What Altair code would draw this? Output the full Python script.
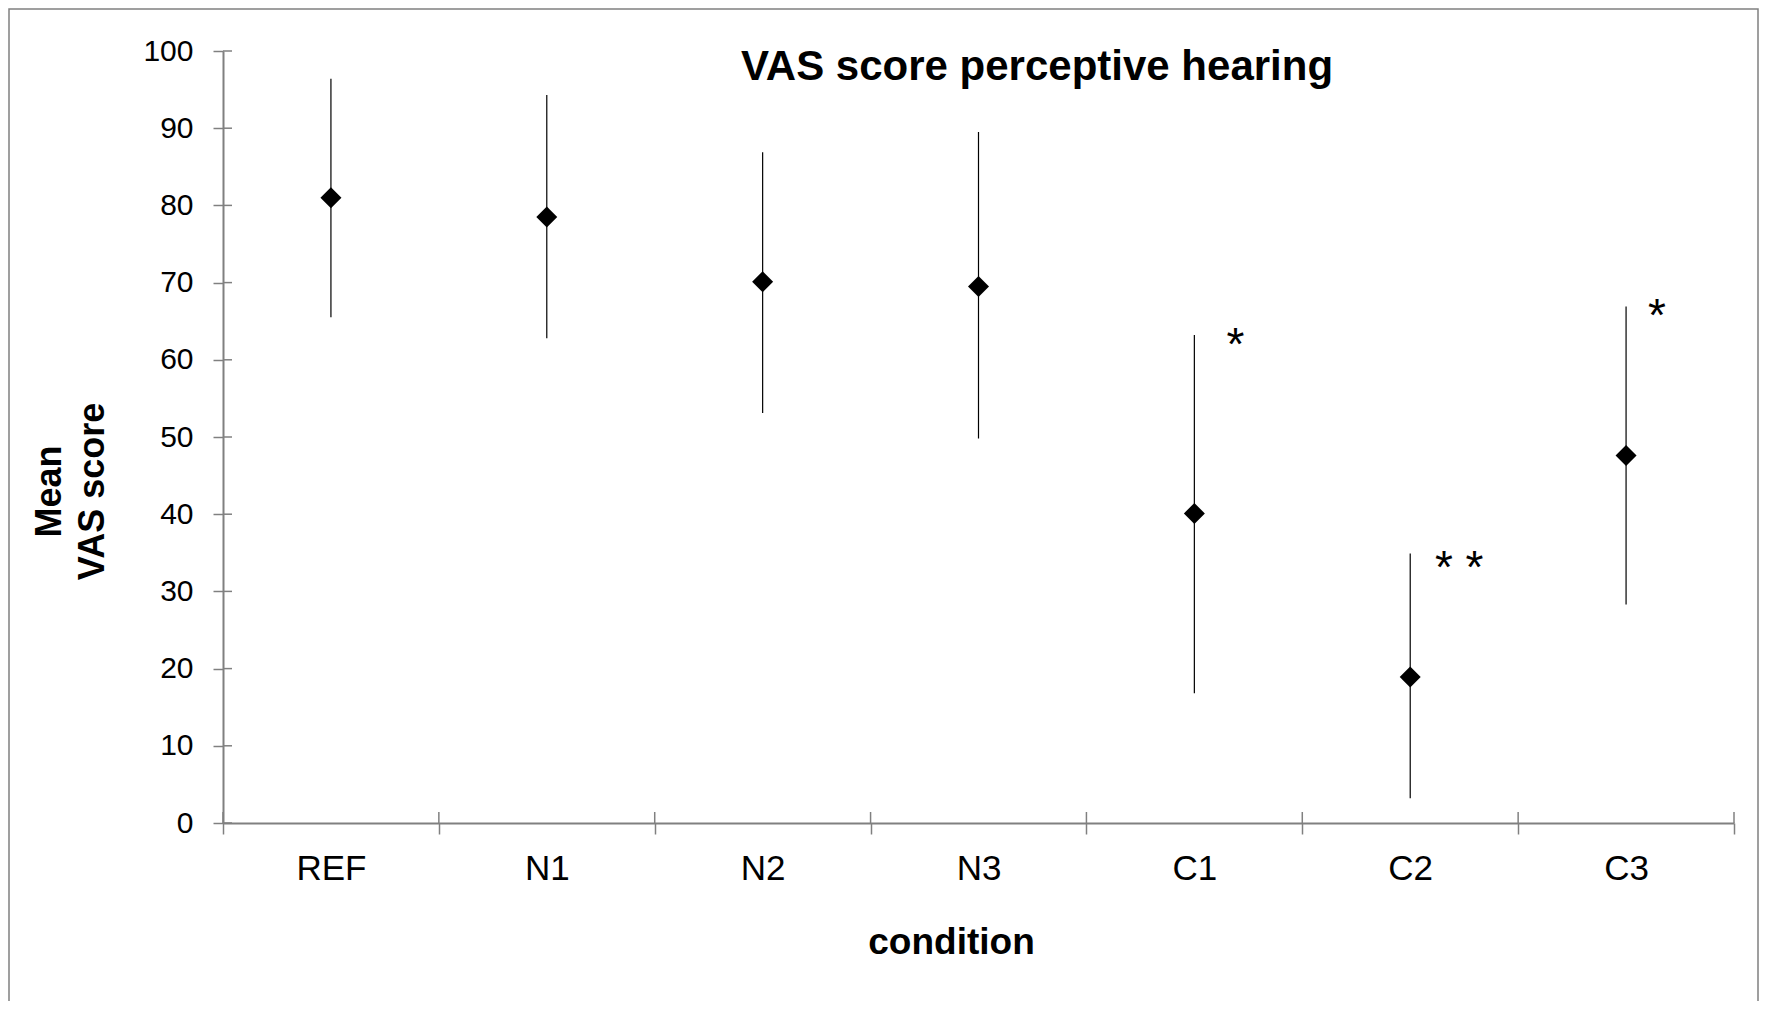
import altair as alt
import pandas as pd

# ---- data ----
conditions = ["REF", "N1", "N2", "N3", "C1", "C2", "C3"]
mean_vas = [81.0, 78.5, 70.1, 69.5, 40.1, 18.9, 47.6]
upper_vas = [96.4, 94.3, 86.9, 89.5, 63.2, 34.9, 66.9]
lower_vas = [65.5, 62.8, 53.1, 49.8, 16.8, 3.2, 28.3]

sig_conditions = ["C1", "C2", "C3"]
sig_labels = ["*", "* *", "*"]
sig_y = [62.7, 33.8, 66.4]

y_ticks = [0, 10, 20, 30, 40, 50, 60, 70, 80, 90, 100]

chart_title = "VAS score perceptive hearing"
x_title = "condition"
y_title = ["Mean", "VAS score"]

# ---- layout / style ----
W, H = 1511, 772
FONT = "Liberation Sans"
GRAY = "#808080"

df = pd.DataFrame({"condition": conditions, "mean": mean_vas,
                   "upper": upper_vas, "lower": lower_vas})
tick_df = pd.DataFrame({"tick": y_ticks})
cond_df = pd.DataFrame({"condition": conditions})
sig_df = pd.DataFrame({"condition": sig_conditions, "label": sig_labels, "y": sig_y})

x_scale = alt.Scale(type="band", domain=conditions, paddingInner=0, paddingOuter=0)
y_scale = alt.Scale(domain=[0, 100], nice=False, zero=True)

x_axis = alt.Axis(title=x_title, tickBand="extent", tickSize=11, labelAngle=0,
                  labelFontSize=35, labelBaseline="alphabetic", labelPadding=45,
                  titleFontSize=37, titleFontWeight="bold", titleX=728, titleY=130,
                  titleAlign="center", titleBaseline="alphabetic")
y_axis = alt.Axis(title=y_title, values=y_ticks, tickSize=10, labelPadding=20,
                  labelFontSize=30, grid=False, titleFontSize=36,
                  titleFontWeight="bold", titleAngle=270, titleX=-163, titleY=440,
                  titleAlign="center", titleBaseline="alphabetic", titleLineHeight=43)


def X(**kw):
    return alt.X("condition:N", sort=conditions, scale=x_scale, axis=x_axis, **kw)


def Y(field):
    return alt.Y(field, scale=y_scale, axis=y_axis)


border = alt.Chart(pd.DataFrame({"a": [0]})).mark_rect(
    fillOpacity=0, stroke=GRAY, strokeWidth=1.5
).encode(x=alt.value(-214), x2=alt.value(1535), y=alt.value(-42), y2=alt.value(1100))

title = alt.Chart(pd.DataFrame({"t": [chart_title]})).mark_text(
    font=FONT, fontSize=42, fontWeight="bold", baseline="alphabetic",
    align="center", color="black"
).encode(text="t:N", x=alt.value(814), y=alt.value(29))

bars = alt.Chart(df).mark_rule(color="black", strokeWidth=1.2).encode(
    x=X(), y=Y("lower:Q"), y2="upper:Q")

points = alt.Chart(df).mark_point(
    shape="diamond", size=440, filled=True, color="black", opacity=1
).encode(x=X(), y=Y("mean:Q"))

ytick_in = alt.Chart(tick_df).mark_rule(color=GRAY, strokeWidth=1.5).encode(
    y=Y("tick:Q"), x=alt.value(0), x2=alt.value(9))

xtick_in = alt.Chart(cond_df).mark_rule(color=GRAY, strokeWidth=1.5).encode(
    x=X(bandPosition=0), y=alt.value(H - 11), y2=alt.value(H))
xtick_end = alt.Chart(cond_df.tail(1)).mark_rule(color=GRAY, strokeWidth=1.5).encode(
    x=X(bandPosition=1), y=alt.value(H - 11), y2=alt.value(H))

sig_dx = [41, 49, 31]
sig_layers = []
for i in range(len(sig_conditions)):
    sig_layers.append(
        alt.Chart(sig_df.iloc[[i]]).mark_text(
            font=FONT, fontSize=46, baseline="alphabetic", align="center",
            dx=sig_dx[i], dy=21, color="black"
        ).encode(x=X(), y=Y("y:Q"), text="label:N")
    )

chart = alt.layer(border, title, bars, points, ytick_in, xtick_in, xtick_end,
                  *sig_layers).properties(
    width=W, height=H,
    autosize=alt.AutoSizeParams(type="none"),
    padding={"left": 215, "top": 43, "right": 26, "bottom": 178},
    background="white",
).configure_axis(
    domainColor=GRAY, domainWidth=2, tickColor=GRAY, tickWidth=1.5,
    labelFont=FONT, titleFont=FONT, labelColor="black", titleColor="black"
).configure_view(stroke="transparent")

chart.save("out.html", embed_options={"renderer": "svg", "actions": False})
